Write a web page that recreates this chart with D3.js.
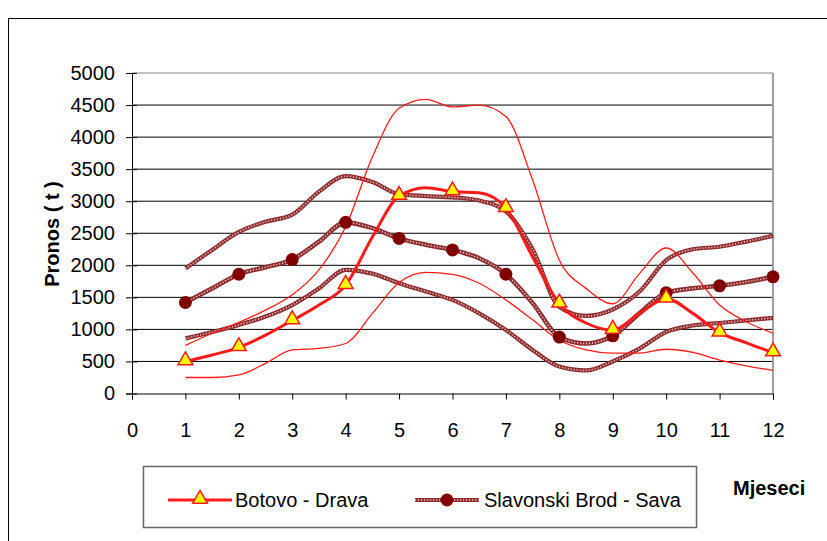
<!DOCTYPE html>
<meta charset="utf-8">
<script src="https://d3js.org/d3.v7.min.js"></script>
<style>
  body { margin: 0; background: #fff; }
  text { font-family: "Liberation Sans", Arial, sans-serif; }
</style>
<div id="chart"></div>
<script>

// x positions (months) at half-month steps
const months = [1, 1.5, 2, 2.5, 3, 3.5, 4, 4.5, 5, 5.5, 6, 6.5, 7, 7.5, 8, 8.5, 9, 9.5, 10, 10.5, 11, 11.5, 12];

// Botovo - Drava
const botovo    = [500, 600, 720, 910, 1140, 1380, 1690, 2440, 3080, 3210, 3150, 3130, 2890, 2130, 1400, 1100, 990, 1250, 1480, 1250, 950, 790, 640];
const botovoMax = [750, 940, 1110, 1300, 1540, 1930, 2600, 3690, 4450, 4590, 4470, 4500, 4320, 3330, 2080, 1640, 1400, 1870, 2270, 1880, 1380, 1120, 940];
const botovoMin = [250, 250, 290, 470, 680, 705, 780, 1250, 1730, 1890, 1860, 1720, 1460, 1150, 830, 680, 630, 630, 690, 640, 520, 430, 360];

// Slavonski Brod - Sava
const sava    = [1420, 1640, 1860, 1970, 2090, 2370, 2670, 2580, 2420, 2320, 2240, 2110, 1860, 1410, 880, 780, 900, 1250, 1570, 1640, 1680, 1740, 1820];
const savaMax = [1950, 2240, 2520, 2680, 2790, 3150, 3390, 3300, 3110, 3080, 3060, 3010, 2840, 2250, 1350, 1210, 1310, 1590, 2080, 2250, 2290, 2370, 2460];
const savaMin = [860, 960, 1070, 1200, 1380, 1640, 1930, 1870, 1720, 1590, 1460, 1250, 990, 680, 420, 360, 500, 700, 960, 1060, 1100, 1140, 1180];

const xTicks = d3.range(0, 13);
const yTicks = d3.range(0, 5001, 500);

const width = 827, height = 541;
const svg = d3.select("#chart").append("svg")
    .attr("width", width)
    .attr("height", height);

// outer frame
svg.append("rect")
    .attr("x", 8.5).attr("y", 18.5)
    .attr("width", 840).attr("height", 540)
    .attr("fill", "none").attr("stroke", "#000").attr("stroke-width", 1);

const x = d3.scaleLinear().domain([0, 12]).range([132, 773]);
const y = d3.scaleLinear().domain([0, 5000]).range([393.5, 73]);

// gridlines
svg.append("g")
  .selectAll("line")
  .data(yTicks.filter(d => d > 0))
  .join("line")
    .attr("x1", x(0)).attr("x2", x(12))
    .attr("y1", d => y(d)).attr("y2", d => y(d))
    .attr("stroke", d => d == 5000 ? "#808080" : "#000")
    .attr("stroke-width", 1);

// plot area right border
svg.append("line")
    .attr("x1", x(12)).attr("x2", x(12))
    .attr("y1", y(5000)).attr("y2", y(0))
    .attr("stroke", "#a0a0a0").attr("stroke-width", 2);

// axes
const yAxis = svg.append("g")
    .attr("transform", `translate(${x(0)},0)`)
    .call(d3.axisLeft(y).tickValues(yTicks).tickFormat(d3.format("d")).tickSize(6).tickPadding(11));
yAxis.selectAll(".tick line").attr("x1", 5);
const xAxis = svg.append("g")
    .attr("transform", `translate(0,${y(0)})`)
    .call(d3.axisBottom(x).tickValues(xTicks).tickSize(6).tickPadding(23));
[yAxis, xAxis].forEach(a => {
  a.selectAll("text").style("font-size", "20px").attr("fill", "#000")
    .style("font-family", "'Liberation Sans', Arial, sans-serif");
  a.selectAll("line").attr("stroke", "#000");
  a.select(".domain").attr("stroke", "#000");
});

// axis titles
svg.append("text")
    .attr("transform", "translate(59,234) rotate(-90)")
    .attr("text-anchor", "middle")
    .style("font-size", "20px").style("font-weight", "bold")
    .text("Pronos ( t )");
svg.append("text")
    .attr("x", 733).attr("y", 495)
    .style("font-size", "20px").style("font-weight", "bold")
    .text("Mjeseci");

const line = d3.line()
    .x((d, i) => x(months[i]))
    .y(d => y(d))
    .curve(d3.curveMonotoneX);

// patterned dark red line (Sava)
function savaLine(vals, w) {
  svg.append("path").attr("d", line(vals))
      .attr("fill", "none").attr("stroke", "#8c2c2c").attr("stroke-width", w);
  svg.append("path").attr("d", line(vals))
      .attr("fill", "none").attr("stroke", "#ecc4c4").attr("stroke-width", 1.6)
      .attr("stroke-dasharray", "1.2,1.8");
}

savaLine(savaMax, 4.2);
savaLine(savaMin, 4.2);
savaLine(sava, 4.6);

// thin red bounds (Botovo)
[botovoMax, botovoMin].forEach(vals => {
  svg.append("path").attr("d", line(vals))
      .attr("fill", "none").attr("stroke", "#ff1a1a").attr("stroke-width", 1.3);
});
svg.append("path").attr("d", line(botovo))
    .attr("fill", "none").attr("stroke", "#ff1a1a").attr("stroke-width", 3);

// markers only at whole months
const idx = months.map((m, i) => i).filter(i => Number.isInteger(months[i]));

svg.append("g").selectAll("circle")
  .data(idx)
  .join("circle")
    .attr("cx", i => x(months[i]))
    .attr("cy", i => y(sava[i]))
    .attr("r", 6.5)
    .attr("fill", "#800000");

const tri = d3.symbol().type(d3.symbolTriangle).size(95);
svg.append("g").selectAll("path")
  .data(idx)
  .join("path")
    .attr("transform", i => `translate(${x(months[i])},${y(botovo[i]) - 1})`)
    .attr("d", tri)
    .attr("fill", "#ffff00")
    .attr("stroke", "#ff1a1a").attr("stroke-width", 1.5);

// legend
const lg = svg.append("g");
lg.append("rect")
    .attr("x", 143.5).attr("y", 466.5)
    .attr("width", 553).attr("height", 61)
    .attr("fill", "#fff").attr("stroke", "#666").attr("stroke-width", 1.5);

lg.append("line").attr("x1", 168).attr("x2", 232).attr("y1", 500).attr("y2", 500)
    .attr("stroke", "#ff1a1a").attr("stroke-width", 3);
lg.append("path").attr("transform", "translate(200,499)").attr("d", tri)
    .attr("fill", "#ffff00").attr("stroke", "#ff1a1a").attr("stroke-width", 1.5);
lg.append("text").attr("x", 235).attr("y", 507).style("font-size", "20px").text("Botovo - Drava");

lg.append("line").attr("x1", 415).attr("x2", 479).attr("y1", 500).attr("y2", 500)
    .attr("stroke", "#8c2c2c").attr("stroke-width", 4.2);
lg.append("line").attr("x1", 415).attr("x2", 479).attr("y1", 500).attr("y2", 500)
    .attr("stroke", "#ecc4c4").attr("stroke-width", 1.6).attr("stroke-dasharray", "1.2,1.8");
lg.append("circle").attr("cx", 447).attr("cy", 500).attr("r", 6.5).attr("fill", "#800000");
lg.append("text").attr("x", 484).attr("y", 507).style("font-size", "20px").text("Slavonski Brod - Sava");

</script>
